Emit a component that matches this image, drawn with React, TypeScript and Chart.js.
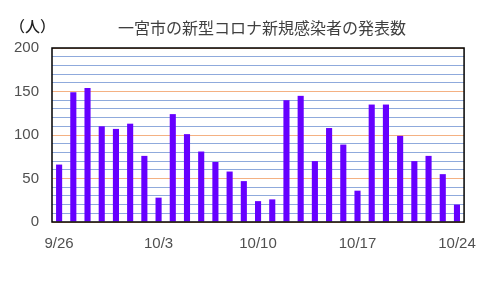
import React, { useEffect, useRef } from "react";
import { Chart, registerables } from "chart.js";

Chart.register(...registerables);

const dates = [
  "9/26","9/27","9/28","9/29","9/30","10/1","10/2",
  "10/3","10/4","10/5","10/6","10/7","10/8","10/9",
  "10/10","10/11","10/12","10/13","10/14","10/15","10/16",
  "10/17","10/18","10/19","10/20","10/21","10/22","10/23",
  "10/24",
];
const cases = [
  66, 149, 154, 110, 107, 113, 76,
  28, 124, 101, 81, 69, 58, 47,
  24, 26, 140, 145, 70, 108, 89,
  36, 135, 135, 99, 70, 76, 55,
  20,
];
const title = "一宮市の新型コロナ新規感染者の発表数";
const unitLabel = "（人）";

const FONT = "'Liberation Sans', 'Noto Sans CJK JP', sans-serif";

export default function App() {
  const ref = useRef<HTMLCanvasElement | null>(null);
  useEffect(() => {
    if (!ref.current) return;
    const textPlugin = {
      id: "texts",
      afterDraw(chart: any) {
        const ctx = chart.ctx;
        const a = chart.chartArea;
        ctx.save();
        ctx.strokeStyle = "#000";
        ctx.lineWidth = 1.5;
        ctx.strokeRect(a.left, a.top, a.right - a.left, a.bottom - a.top);
        ctx.fillStyle = "#404040";
        ctx.textBaseline = "middle";
        ctx.font = "16px 'Noto Sans CJK JP', sans-serif";
        ctx.textAlign = "center";
        ctx.fillText(title, 262, 28);
        ctx.textAlign = "left";
        ctx.fillStyle = "#222";
        ctx.font = "500 15px 'Noto Sans CJK JP', sans-serif";
        ctx.fillText(unitLabel, 10, 26);
        ctx.restore();
      },
    };
    const chart = new Chart(ref.current, {
      type: "bar",
      data: {
        labels: dates,
        datasets: [
          {
            data: cases,
            backgroundColor: "#6600ff",
            barPercentage: 0.43,
            categoryPercentage: 1,
          },
        ],
      },
      options: {
        animation: false,
        responsive: false,
        layout: { padding: { top: 48, right: 15, left: 0, bottom: 0 } },
        plugins: { legend: { display: false }, tooltip: { enabled: false } },
        scales: {
          x: {
            grid: { display: false },
            border: { display: false },
            ticks: {
              autoSkip: false,
              maxRotation: 0,
              color: "#505050",
              font: { family: FONT, size: 15 },
              padding: 5,
              callback: (_v: any, i: number) => (i % 7 === 0 ? dates[i] : ""),
            },
            afterFit: (s: any) => {
              s.height = 67;
            },
          },
          y: {
            min: 0,
            max: 200,
            border: { display: false },
            grid: {
              drawTicks: false,
              lineWidth: 1,
              color: (c: any) =>
                c.tick && c.tick.value % 50 === 0 ? "#f4b183" : "#8faadc",
            },
            ticks: {
              stepSize: 10,
              autoSkip: false,
              color: "#505050",
              font: { family: FONT, size: 15 },
              padding: 13,
              callback: (v: any) => (Number(v) % 50 === 0 ? String(v) : ""),
            },
            afterFit: (s: any) => {
              s.width = 52;
            },
          },
        },
      },
      plugins: [textPlugin],
    });
    return () => chart.destroy();
  }, []);
  return (
    <div style={{ position: "fixed", left: 0, top: 0, width: 481, height: 289, background: "#fff" }}>
      <canvas ref={ref} width={481} height={289} style={{ width: 481, height: 289 }} />
    </div>
  );
}
